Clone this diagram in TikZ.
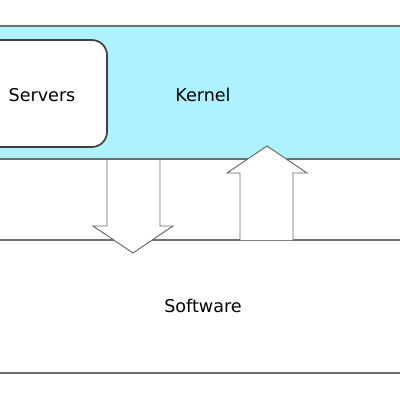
\documentclass[tikz,border=0pt]{standalone}
\usepackage{fontspec}
\setmainfont{DejaVu Sans}
\usetikzlibrary{positioning}

\definecolor{kernelfill}{HTML}{AEF2FF}
\definecolor{boxline}{HTML}{6E6E6E}
\tikzset{
  layer/.style={draw=boxline,line width=1.4pt},
  srvbox/.style={draw=black!75,fill=white,line width=1.2pt,rounded corners=.38cm},
  blockarrow/.style={draw=black!58,fill=white,line width=.7pt},
}

\begin{document}
\begin{tikzpicture}[x=.025cm,y=-.025cm,font=\fontsize{12.5}{15}\selectfont]
\useasboundingbox (0,0) rectangle (400,400);
\clip (0,0) rectangle (400,400);
% layers
\draw[layer,fill=kernelfill] (-10,26) rectangle (410,159);
\draw[layer,fill=white] (-10,240) rectangle (410,373);
\draw[srvbox] (-30,40) rectangle (107,147);
\node (servers) at (42,95) {Servers};
\node (kernel) at (203,95) {Kernel};
\node (software) at (203,306) {Software};
% block arrows
\draw[blockarrow] (107,160.2) -- (107,226) -- (93,226) -- (133,253) -- (173,226) -- (160,226) -- (160,160.2);
\draw[blockarrow] (240,240) -- (240,173) -- (227,173) -- (267,146) -- (307,173) -- (293,173) -- (293,240);
\end{tikzpicture}
\end{document}
